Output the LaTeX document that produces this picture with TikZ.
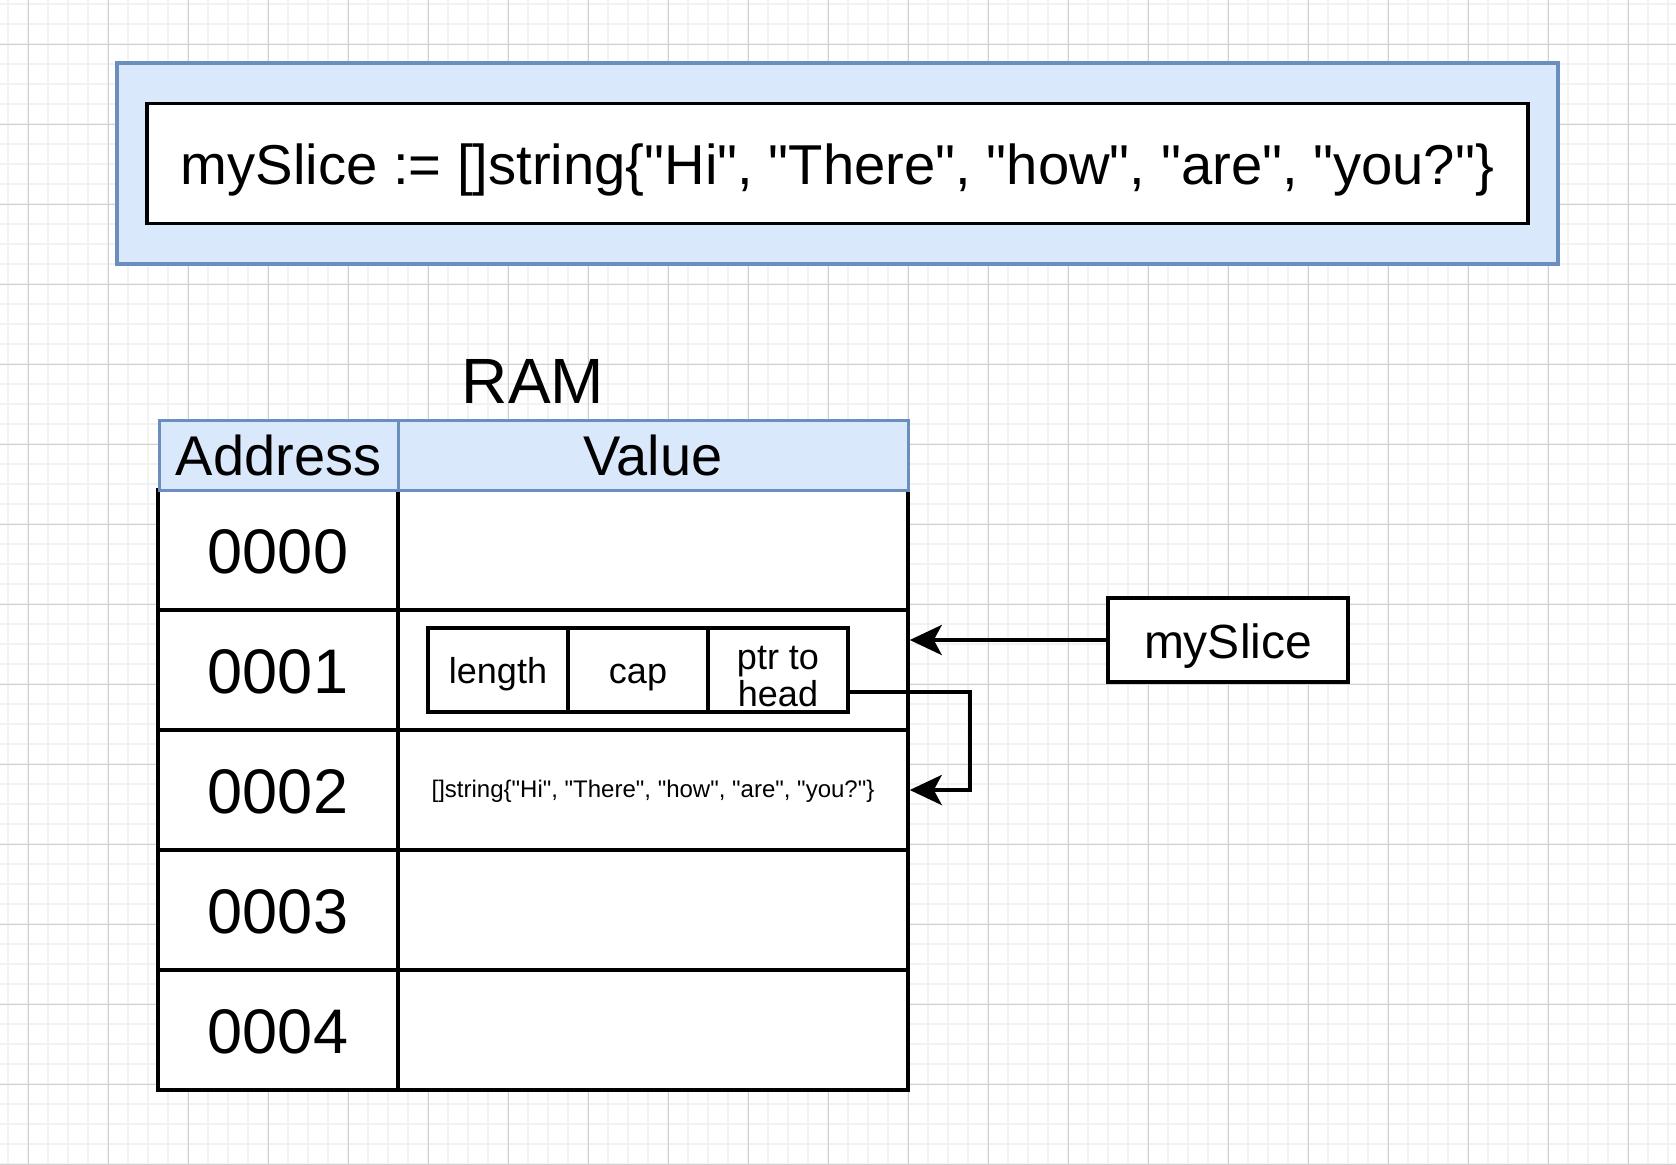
\documentclass[tikz,border=0pt]{standalone}
\usepackage{fontspec}
\setmainfont{Liberation Sans}[Ligatures=TeXOff]
\usetikzlibrary{calc, arrows.meta}

\definecolor{gridminor}{HTML}{F2F2F2}
\definecolor{gridmajor}{HTML}{D0D0D0}
\definecolor{hdrfill}{HTML}{DAE8FC}
\definecolor{hdrline}{HTML}{6C8EBF}

\begin{document}
\begin{tikzpicture}[x=0.5pt, y=-0.5pt,
  box/.style={draw=black, line width=1.75pt, fill=white, inner sep=0pt},
  frame/.style={draw=hdrline, fill=hdrfill, line width=2pt, inner sep=0pt},
  code/.style={box, minimum width=690.5pt, minimum height=60pt,
    font=\fontsize{28.1}{34}\selectfont, text height=24pt, text depth=3pt},
  hdr/.style={frame, line width=1.5pt, minimum height=35pt,
    font=\fontsize{28}{33}\selectfont, text height=24pt, text depth=4pt},
  addr/.style={box, minimum width=120pt, minimum height=60pt,
    font=\fontsize{31.5}{38}\selectfont, text height=28pt, text depth=5pt},
  val/.style={box, minimum width=255pt, minimum height=60pt},
  fld/.style={box, minimum width=70pt, minimum height=42pt, align=center,
    font=\fontsize{18}{18.5}\selectfont, text height=15pt, text depth=2pt},
  tiny/.style={font=\fontsize{12}{14.4}\selectfont, text height=9pt, text depth=2pt},
  link/.style={line width=2pt, -{Stealth[length=16pt, width=15pt, inset=4pt]}}]
  \useasboundingbox (0,0) rectangle (1676,1164);
  \fill[white] (0,0) rectangle (1676,1164);
  % grid paper
  \foreach \x in {8,28,...,1676} \draw[gridminor, line width=0.75pt] (\x,0) -- (\x,1164);
  \foreach \y in {4,24,...,1164} \draw[gridminor, line width=0.75pt] (0,\y) -- (1676,\y);
  \foreach \x in {28,108,...,1676} \draw[gridmajor, line width=0.5pt] (\x,0) -- (\x,1164);
  \foreach \y in {44,124,...,1164} \draw[gridmajor, line width=0.5pt] (0,\y) -- (1676,\y);

  % declaration on top
  \node[frame, minimum width=720.5pt, minimum height=100.5pt] (decl) at (837.5,163.5) {};
  \node[code] (code) at (decl.center)
    {mySlice := []string\{"Hi", "There", "how", "are", "you?"\}};

  % RAM table
  \node[font=\fontsize{32}{38}\selectfont, anchor=base] (ram) at (533,403) {RAM};
  \foreach \a [count=\i from 0] in {0000,0001,0002,0003,0004} {
    \node[addr] (a\i) at (278,550+120*\i) {\a};
    \node[val] (v\i) at (653,550+120*\i) {};
  }
  \node[hdr, minimum width=119.5pt] (haddr) at (278.5,455) {Address};
  \node[hdr, minimum width=255pt] (hval) at (653,455) {Value};

  % slice header inside 0001
  \node[fld] (len) at (498,670) {length};
  \node[fld] (cap) at (638,670) {cap};
  \node[fld, text height=38pt, text depth=2pt] (head) at (778,670) {ptr to\\head};
  % backing array in 0002
  \node[tiny] (arr) at (v2.center) {[]string\{"Hi", "There", "how", "are", "you?"\}};

  % variable
  \node[box, minimum width=120pt, minimum height=42pt,
    font=\fontsize{24}{29}\selectfont, text height=20pt, text depth=2pt] (ms) at (1228,640) {mySlice};

  \draw[link] (ms.west) -- (v1.east |- ms.west);
  \coordinate (tail) at ($(head.east)+(0,22)$);
  \draw[link] (tail) -- ++(120,0) |- (v2.east);
\end{tikzpicture}
\end{document}
